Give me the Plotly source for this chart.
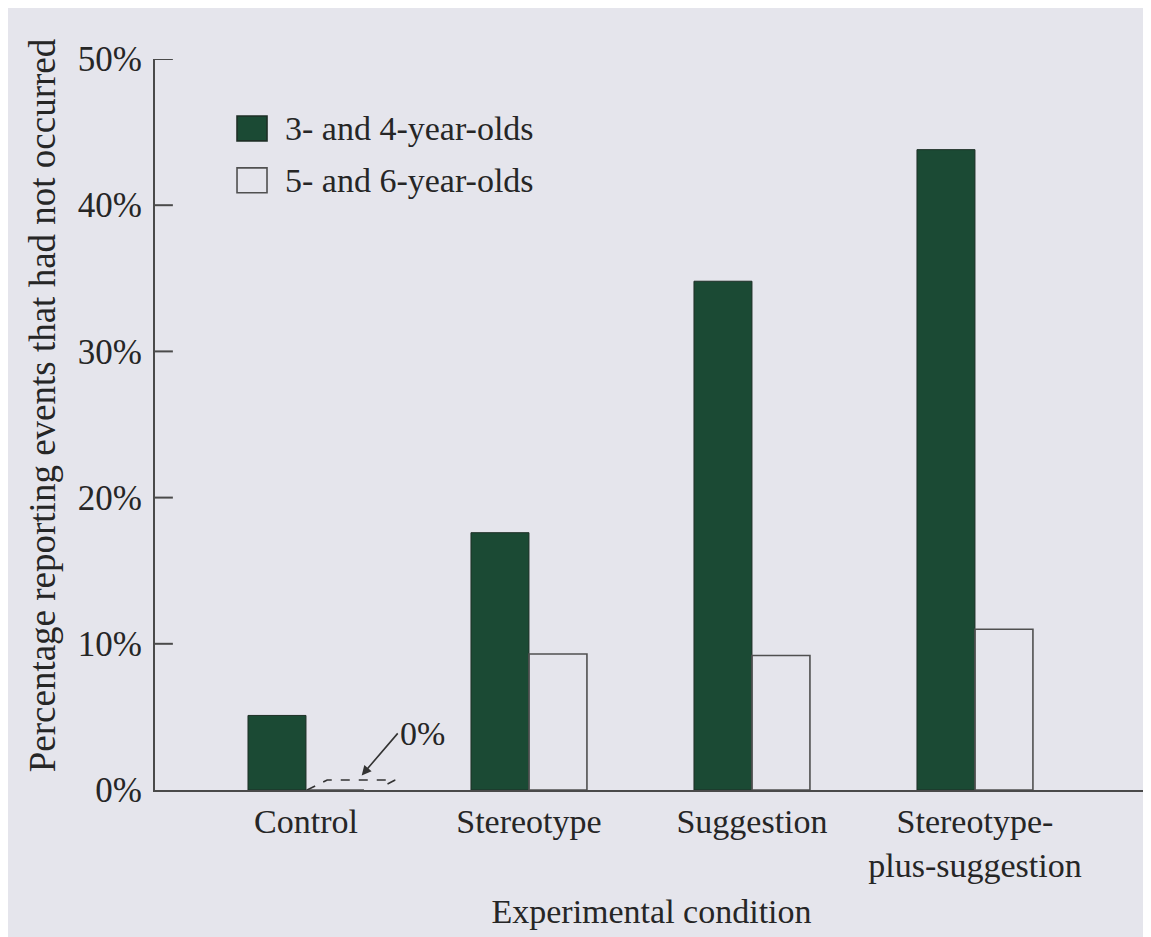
import plotly.graph_objects as go

categories = ["Control", "Stereotype", "Suggestion", "Stereotype-<br>plus-suggestion"]
younger = [5.1, 17.6, 34.8, 43.8]
older = [0.0, 9.3, 9.2, 11.0]
series_names = ["3- and 4-year-olds", "5- and 6-year-olds"]
y_ticks = [0, 10, 20, 30, 40, 50]
y_tick_labels = ["0%", "10%", "20%", "30%", "40%", "50%"]
y_title = "Percentage reporting events that had not occurred"
x_title = "Experimental condition"

BG = "#e5e5ec"
GREEN = "#1b4a34"
INK = "#262626"
AX = "#4a4a4a"
FONT = "Liberation Serif"
FS = 34

fig = go.Figure()
fig.add_trace(go.Bar(x=categories, y=younger, name=series_names[0],
                     marker=dict(color=GREEN, line=dict(color="#1e2f26", width=1)),
                     showlegend=False))
fig.add_trace(go.Bar(x=categories, y=older, name=series_names[1],
                     marker=dict(color="rgba(0,0,0,0)", line=dict(color="#505050", width=1.6)),
                     showlegend=False))

# y-axis tick marks drawn inside the plot
for t in y_ticks[1:]:
    fig.add_shape(type="line", xref="x domain", yref="y", x0=0, x1=0.018,
                  y0=t, y1=t, line=dict(color=AX, width=2))

# dashed outline for the 0% bar (Control, older group)
zero_idx = 0
x0 = zero_idx
fig.add_shape(type="path", xref="x", yref="y",
              path=(f"M {x0+0.005},0 L {x0+0.095},0.68 L {x0+0.40},0.68 "
                    f"L {x0+0.33},0.14"),
              line=dict(color="#333", width=1.6, dash="dash"))
fig.add_annotation(x=x0 + 0.25, y=1.0, xref="x", yref="y",
                   text=f"{older[zero_idx]:.0f}%", showarrow=True,
                   arrowhead=2, arrowsize=1.2, arrowwidth=1.6, arrowcolor="#333",
                   ax=36, ay=-42, font=dict(family=FONT, size=FS, color=INK),
                   xanchor="left")

# custom legend
leg_y = [0.905, 0.834]
fills = [GREEN, "rgba(0,0,0,0)"]
lines = ["#1e2f26", "#505050"]
for i in range(2):
    fig.add_shape(type="rect", xref="paper", yref="paper",
                  x0=0.0826, x1=0.1128, y0=leg_y[i] - 0.017, y1=leg_y[i] + 0.017,
                  fillcolor=fills[i], line=dict(color=lines[i], width=1.6))
    fig.add_annotation(xref="paper", yref="paper", x=0.129, y=leg_y[i],
                       text=series_names[i], showarrow=False, xanchor="left",
                       yanchor="middle", font=dict(family=FONT, size=FS, color=INK))

# y-axis title as rotated annotation
fig.add_annotation(xref="paper", yref="paper", x=-0.113, y=0.526,
                   text=y_title, textangle=-90, showarrow=False,
                   xanchor="center", yanchor="middle",
                   font=dict(family=FONT, size=37, color=INK))

fig.update_layout(
    width=1151, height=937,
    paper_bgcolor=BG, plot_bgcolor=BG,
    margin=dict(l=147, r=11, t=51, b=155),
    barmode="group", bargap=0.48, bargroupgap=0,
    font=dict(family=FONT, size=FS, color=INK),
    xaxis=dict(type="category", range=[-0.677, 3.776], showgrid=False,
               showline=True, linecolor=AX, linewidth=2, ticks="",
               tickfont=dict(family=FONT, size=FS, color=INK),
               title=dict(text=x_title, standoff=16,
                          font=dict(family=FONT, size=FS, color=INK))),
    yaxis=dict(range=[0, 50], tickvals=y_ticks, ticktext=y_tick_labels,
               showgrid=False, zeroline=False, showline=True, linecolor=AX,
               linewidth=2, ticks="", ticklabelstandoff=4,
               tickfont=dict(family=FONT, size=35, color=INK)),
)

fig.write_html("out.html")
